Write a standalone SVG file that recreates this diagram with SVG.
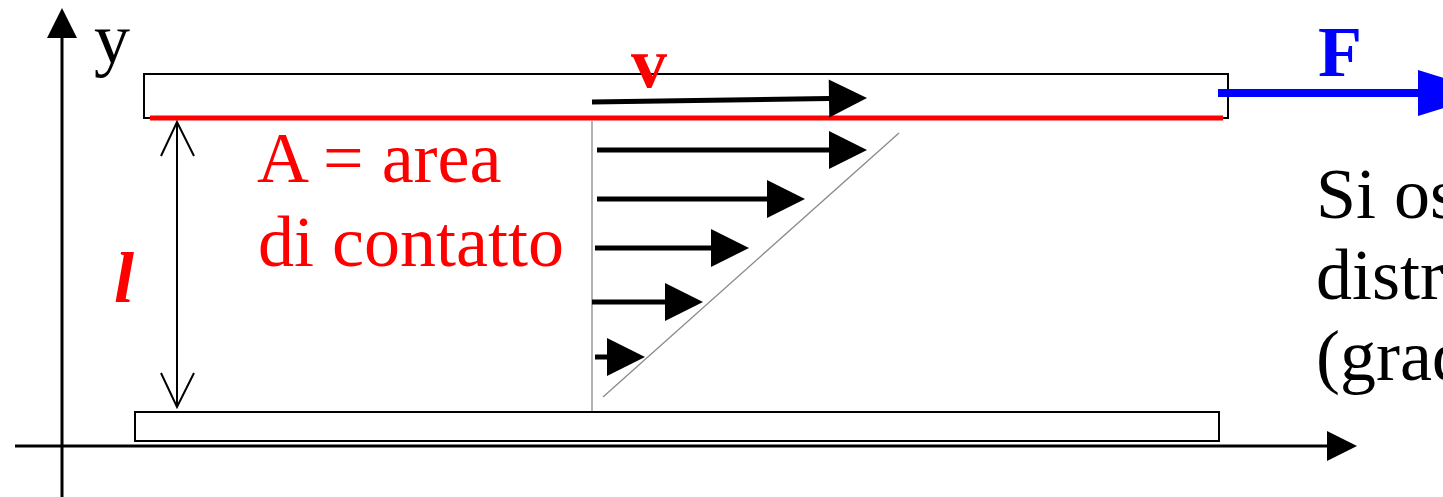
<svg xmlns="http://www.w3.org/2000/svg" width="1443" height="497" viewBox="0 0 1443 497">
<style>
  .txt { font-family: "Liberation Serif", "Times New Roman", serif; font-size: 72px; }
  .red { fill: #ff0000; }
  .plate { fill: #ffffff; stroke: #000000; stroke-width: 2; }
  .vel { stroke: #000000; stroke-width: 5; fill: none; marker-end: url(#velhead); }
  .axis { stroke: #000000; stroke-width: 3; fill: none; }
  .guide { stroke: #8a8a8a; stroke-width: 1.3; fill: none; }
</style>
<defs>
  <marker id="velhead" markerUnits="userSpaceOnUse" markerWidth="40" markerHeight="40" refX="0" refY="19" orient="auto" overflow="visible">
    <path d="M0,0 L38,19 L0,38 z" fill="#000000"/>
  </marker>
</defs>
<rect width="1443" height="497" fill="#ffffff"/>

<g id="axes">
  <line class="axis" x1="62" y1="36" x2="62" y2="497"/>
  <polygon points="62,8 47,38 77,38" fill="#000000"/>
  <line class="axis" x1="15" y1="446" x2="1329" y2="446"/>
  <polygon points="1357,446 1327,431 1327,461" fill="#000000"/>
  <text class="txt" x="94" y="63" font-size="64">y</text>
</g>

<g id="top-plate">
  <rect class="plate" x="144" y="74" width="1084" height="44"/>
  <line x1="150" y1="118" x2="1223" y2="118" stroke="#ff0000" stroke-width="5"/>
</g>

<g id="bottom-plate">
  <rect class="plate" x="135" y="412" width="1084" height="29"/>
</g>

<g id="profile">
  <line class="guide" x1="592" y1="121" x2="592" y2="411"/>
  <line class="guide" x1="603" y1="397" x2="899" y2="133"/>
</g>

<g id="connectors">
  <line class="vel" x1="592" y1="102" x2="829" y2="98.5"/>
  <line class="vel" x1="597" y1="150" x2="829" y2="150"/>
  <line class="vel" x1="597" y1="199" x2="767" y2="199"/>
  <line class="vel" x1="595" y1="248" x2="711" y2="248"/>
  <line class="vel" x1="592" y1="302" x2="665" y2="302"/>
  <line class="vel" x1="595" y1="357" x2="607" y2="357"/>
  <line x1="177" y1="123" x2="177" y2="406" stroke="#000000" stroke-width="2"/>
  <polyline points="161,156 177,122 194,156" fill="none" stroke="#000000" stroke-width="2"/>
  <polyline points="161,373 177,407 194,373" fill="none" stroke="#000000" stroke-width="2"/>
  <line x1="1218" y1="93" x2="1420" y2="93" stroke="#0000ff" stroke-width="8"/>
  <polygon points="1418,70 1493,93 1418,116" fill="#0000ff"/>
</g>

<g id="labels">
  <text class="txt red" x="631" y="87" font-weight="bold">v</text>
  <text class="txt" x="1318" y="76" font-weight="bold" fill="#0000ff">F</text>
  <text class="txt red" x="257" y="182">A = area</text>
  <text class="txt red" x="258" y="266">di contatto</text>
  <text class="txt red" x="114" y="302" font-weight="bold" font-style="italic">l</text>
  <text class="txt" x="1316" y="218">Si os</text>
  <text class="txt" x="1316" y="299">distr</text>
  <text class="txt" x="1316" y="380">(grad</text>
</g>
</svg>
